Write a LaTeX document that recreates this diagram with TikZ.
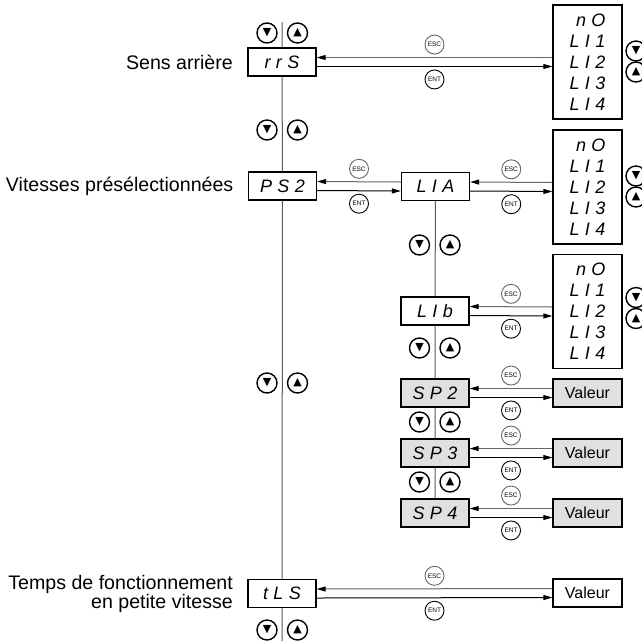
\documentclass[tikz,border=0pt]{standalone}
\usepackage{fontspec}
\setmainfont{Liberation Sans}
\newfontfamily\segfont[LetterSpace=30]{Liberation Sans}
\newfontfamily\arrfont{DejaVu Sans}
\usetikzlibrary{arrows.meta,positioning}
\tikzset{
    disp/.style={draw, line width=1.3pt, fill=white,
        minimum width=68pt, minimum height=28pt, inner sep=0pt,
        font=\segfont\itshape\fontsize{18}{18}\selectfont},
    dispgray/.style={disp, fill=black!12},
    lstbox/.style={draw, line width=1.3pt, fill=white,
        minimum width=69pt, minimum height=114pt, inner sep=0pt, align=right,
        font=\segfont\itshape\fontsize{18}{21}\selectfont},
    valbox/.style={draw, line width=1.3pt, fill=white,
        minimum width=69pt, minimum height=28pt, inner sep=0pt,
        font=\fontsize{16}{16}\selectfont},
    valgray/.style={valbox, fill=black!12},
    lbl/.style={font=\fontsize{19.6}{19}\selectfont, align=right},
    keybtn/.style={circle, draw, line width=0.9pt, fill=white,
        minimum size=19pt, inner sep=0pt, font=\fontsize{6.5}{7}\selectfont},
    arrbtn/.style={circle, draw, line width=1.4pt, minimum size=20pt,
        inner sep=0pt, font=\arrfont\fontsize{11}{11}\selectfont},
    escline/.style={draw=black!60, line width=1pt,
        -{Triangle[length=9pt,width=5pt,color=black]}},
    entline/.style={draw, line width=1pt, -{Triangle[length=9pt,width=5pt]}},
    spine/.style={draw=black!65, line width=1pt}
}

\begin{document}
\begin{tikzpicture}[x=1pt,y=-1pt]
\useasboundingbox (0,0) rectangle (642,641);

% main menu column
\node[disp] (rrs) at (282,62) {rrS};
\node[disp] (ps2) at (282.5,186) {PS2};
\node[disp] (tls) at (282,593.5) {tLS};
\node[lbl, left=11pt of rrs] (lrrs) {Sens arrière};
\node[lbl, left=11pt of ps2] (lps2) {Vitesses présélectionnées};
\node[lbl, left=11pt of tls] (ltls) {Temps de fonctionnement\\en petite vitesse};

% sub menu column
\node[disp] (lia) at (435.5,186.5) {LIA};
\node[disp] (lib) at (435,311) {LIb};
\node[dispgray] (sp2) at (435,393) {SP2};
\node[dispgray] (sp3) at (435,453) {SP3};
\node[dispgray] (sp4) at (435,513) {SP4};

% choices
\node[lstbox] (lst1) at (587.5,62) {nO\\LI1\\LI2\\LI3\\LI4};
\node[lstbox] (lst2) at (587.5,187) {nO\\LI1\\LI2\\LI3\\LI4};
\node[lstbox] (lst3) at (587.5,311.5) {nO\\LI1\\LI2\\LI3\\LI4};
\node[valgray] (val2) at (587.5,393) {Valeur};
\node[valgray] (val3) at (587.5,453) {Valeur};
\node[valgray] (val4) at (587.5,513) {Valeur};
\node[valbox] (val8) at (587.5,593) {Valeur};

% spines
\coordinate (mtop) at (282,22);
\coordinate (mbot) at (282,641);
\draw[spine] (mtop) -- (rrs) -- (ps2) -- (tls) -- (mbot);
\draw[spine] (lia) -- (lib) -- (sp2) -- (sp3) -- (sp4);

% ESC / ENT links
\foreach \a/\b/\n in {rrs/lst1/1, ps2/lia/2, lia/lst2/3, lib/lst3/4,
                      sp2/val2/5, sp3/val3/6, sp4/val4/7, tls/val8/8} {
    \draw[escline] ([yshift=4.5pt]\b.west) -- ([yshift=4.5pt]\a.east)
        node[keybtn, midway, above=3pt] (esc\n) {ESC};
    \draw[entline] ([yshift=-4.5pt]\a.east) -- ([yshift=-4.5pt]\b.west)
        node[keybtn, midway, below=3pt] (ent\n) {ENT};
}

% up / down keys
\foreach \x/\y/\n in {267/33/1, 267/130/2, 267/383/3, 267/630/4,
                      419.5/245/5, 419.5/348/6, 419.5/422/7, 419.5/482/8} {
    \node[arrbtn] (dn\n) at (\x,\y) {▼};
    \node[arrbtn] (up\n) at (\x+30.5,\y) {▲};
}
\foreach \y/\n in {51/1, 176/2, 297.5/3} {
    \node[arrbtn] (ldn\n) at (636,\y) {▼};
    \node[arrbtn] (lup\n) at (636,\y+21) {▲};
}
\end{tikzpicture}
\end{document}
